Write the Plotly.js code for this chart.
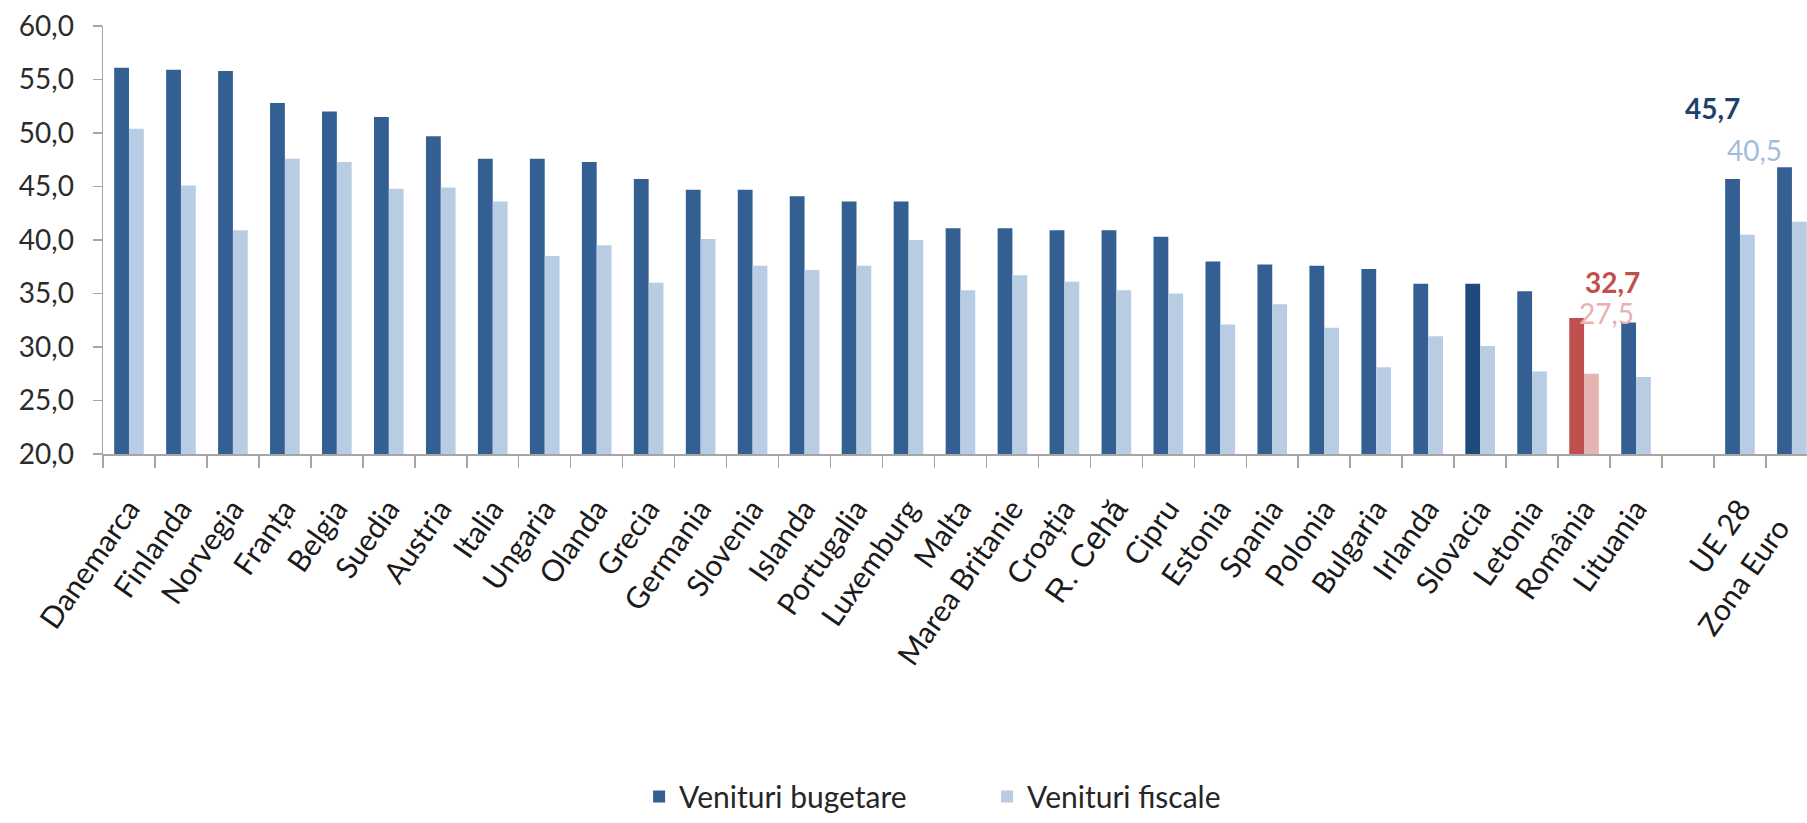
<!DOCTYPE html>
<html>
<head>
<meta charset="utf-8">
<script src="https://cdn.plot.ly/plotly-3.0.1.min.js"></script>
<style>
  html, body { margin: 0; padding: 0; background: #ffffff; overflow: hidden; }
  #chart { width: 1807px; height: 823px; }
</style>
</head>
<body>
<div id="chart"></div>
<script>
// ---- Data ----
var categories = ['Danemarca', 'Finlanda', 'Norvegia', 'Franța', 'Belgia', 'Suedia', 'Austria',
  'Italia', 'Ungaria', 'Olanda', 'Grecia', 'Germania', 'Slovenia', 'Islanda', 'Portugalia',
  'Luxemburg', 'Malta', 'Marea Britanie', 'Croația', 'R. Cehă', 'Cipru', 'Estonia', 'Spania',
  'Polonia', 'Bulgaria', 'Irlanda', 'Slovacia', 'Letonia', 'România', 'Lituania', ' ',
  'UE 28', 'Zona Euro'];

var venituriBugetare = [56.1, 55.9, 55.8, 52.8, 52.0, 51.5, 49.7, 47.6, 47.6, 47.3, 45.7,
  44.7, 44.7, 44.1, 43.6, 43.6, 41.1, 41.1, 40.9, 40.9, 40.3, 38.0, 37.7, 37.6, 37.3, 35.9,
  35.9, 35.2, 32.7, 32.3, null, 45.7, 46.8];

var venituriFiscale = [50.4, 45.1, 40.9, 47.6, 47.3, 44.8, 44.9, 43.6, 38.5, 39.5, 36.0,
  40.1, 37.6, 37.2, 37.6, 40.0, 35.3, 36.7, 36.1, 35.3, 35.0, 32.1, 34.0, 31.8, 28.1, 31.0,
  30.1, 27.7, 27.5, 27.2, null, 40.5, 41.7];

var seriesNames = ['Venituri bugetare', 'Venituri fiscale'];
var yTickValues = [20, 25, 30, 35, 40, 45, 50, 55, 60];

// ---- Styles ----
var darkBlue = '#335f93';
var lightBlue = '#b8cce4';
var darkerBlue = '#1f4a7e';
var red = '#c0504d';
var pink = '#e6b3b2';

var darkColors = categories.map(function (c) {
  if (c === 'România') return red;
  if (c === 'Slovacia') return darkerBlue;
  return darkBlue;
});
var lightColors = categories.map(function (c) {
  return c === 'România' ? pink : lightBlue;
});

var tickText = categories.map(function (c) {
  if (c === 'R. Cehă') {
    return '<span style="font-family:\'Liberation Sans\', Arial; font-size:32px">' + c + '</span>';
  }
  if (c === 'Zona Euro') {
    return c + '&nbsp;&nbsp;&nbsp;';
  }
  return c;
});

var traces = [
  {
    type: 'bar', name: seriesNames[0], x: categories, y: venituriBugetare,
    marker: { color: darkColors }, hoverinfo: 'x+y'
  },
  {
    type: 'bar', name: seriesNames[1], x: categories, y: venituriFiscale,
    marker: { color: lightColors }, hoverinfo: 'x+y'
  }
];

function fmt(v) { return v.toFixed(1).replace('.', ','); }
var iRo = categories.indexOf('România');
var iUe = categories.indexOf('UE 28');

var annotations = [
  { x: categories[iUe], y: venituriBugetare[iUe], text: fmt(venituriBugetare[iUe]),
    font: { color: '#1f3f6e', size: 28, family: 'Lato', weight: 'bold' }, xshift: -27, yshift: 52 },
  { x: categories[iUe], y: venituriFiscale[iUe], text: fmt(venituriFiscale[iUe]),
    font: { color: '#a4bcdc', size: 28, family: 'Lato' }, xshift: 15, yshift: 66 },
  { x: categories[iRo], y: venituriBugetare[iRo], text: fmt(venituriBugetare[iRo]),
    font: { color: '#c0504d', size: 28, family: 'Lato', weight: 'bold' }, xshift: 28, yshift: 17 },
  { x: categories[iRo], y: venituriFiscale[iRo], text: fmt(venituriFiscale[iRo]),
    font: { color: '#e8b1b0', size: 28, family: 'Lato' }, xshift: 22, yshift: 42 }
].map(function (a) {
  a.xref = 'x'; a.yref = 'y'; a.showarrow = false; a.yanchor = 'bottom'; a.xanchor = 'center';
  return a;
});

var layout = {
  width: 1807, height: 823,
  margin: { l: 103, r: 0, t: 26, b: 356, pad: 0 },
  paper_bgcolor: '#ffffff', plot_bgcolor: '#ffffff',
  separators: ', ',
  barmode: 'group', bargap: 0.43, bargroupgap: 0,
  font: { family: 'Lato, "Open Sans", sans-serif', color: '#2b2b2b' },
  showlegend: true,
  legend: {
    orientation: 'h', x: 0.3146, xanchor: 'left', y: -0.80, yanchor: 'middle',
    font: { size: 30, color: '#262626', family: 'Lato' },
    entrywidth: 303, entrywidthmode: 'pixels', itemwidth: 30,
    traceorder: 'normal'
  },
  xaxis: {
    type: 'category', categoryorder: 'array', categoryarray: categories,
    tickmode: 'array', tickvals: categories, ticktext: tickText,
    range: [-0.5, 32.29],
    showline: true, linecolor: '#a6a6a6', linewidth: 1.5,
    ticks: 'outside', tickson: 'boundaries', ticklen: 12, tickcolor: '#a6a6a6', tickwidth: 1.5,
    ticklabelstandoff: 24,
    tickangle: -55, tickfont: { size: 30, color: '#1a1a1a', family: 'Lato' },
    showgrid: false, zeroline: false, automargin: false
  },
  yaxis: {
    range: [20, 60], tickmode: 'array', tickvals: yTickValues, tickformat: '.1f',
    showline: true, linecolor: '#a6a6a6', linewidth: 1.5,
    ticks: 'outside', ticklen: 9, tickcolor: '#a6a6a6', tickwidth: 1.5,
    ticklabelstandoff: 13,
    tickfont: { size: 28, color: '#2b2b2b', family: 'Lato' },
    showgrid: false, zeroline: false, automargin: false
  },
  annotations: annotations
};

Plotly.newPlot('chart', traces, layout, { staticPlot: true, displayModeBar: false });
</script>
</body>
</html>
